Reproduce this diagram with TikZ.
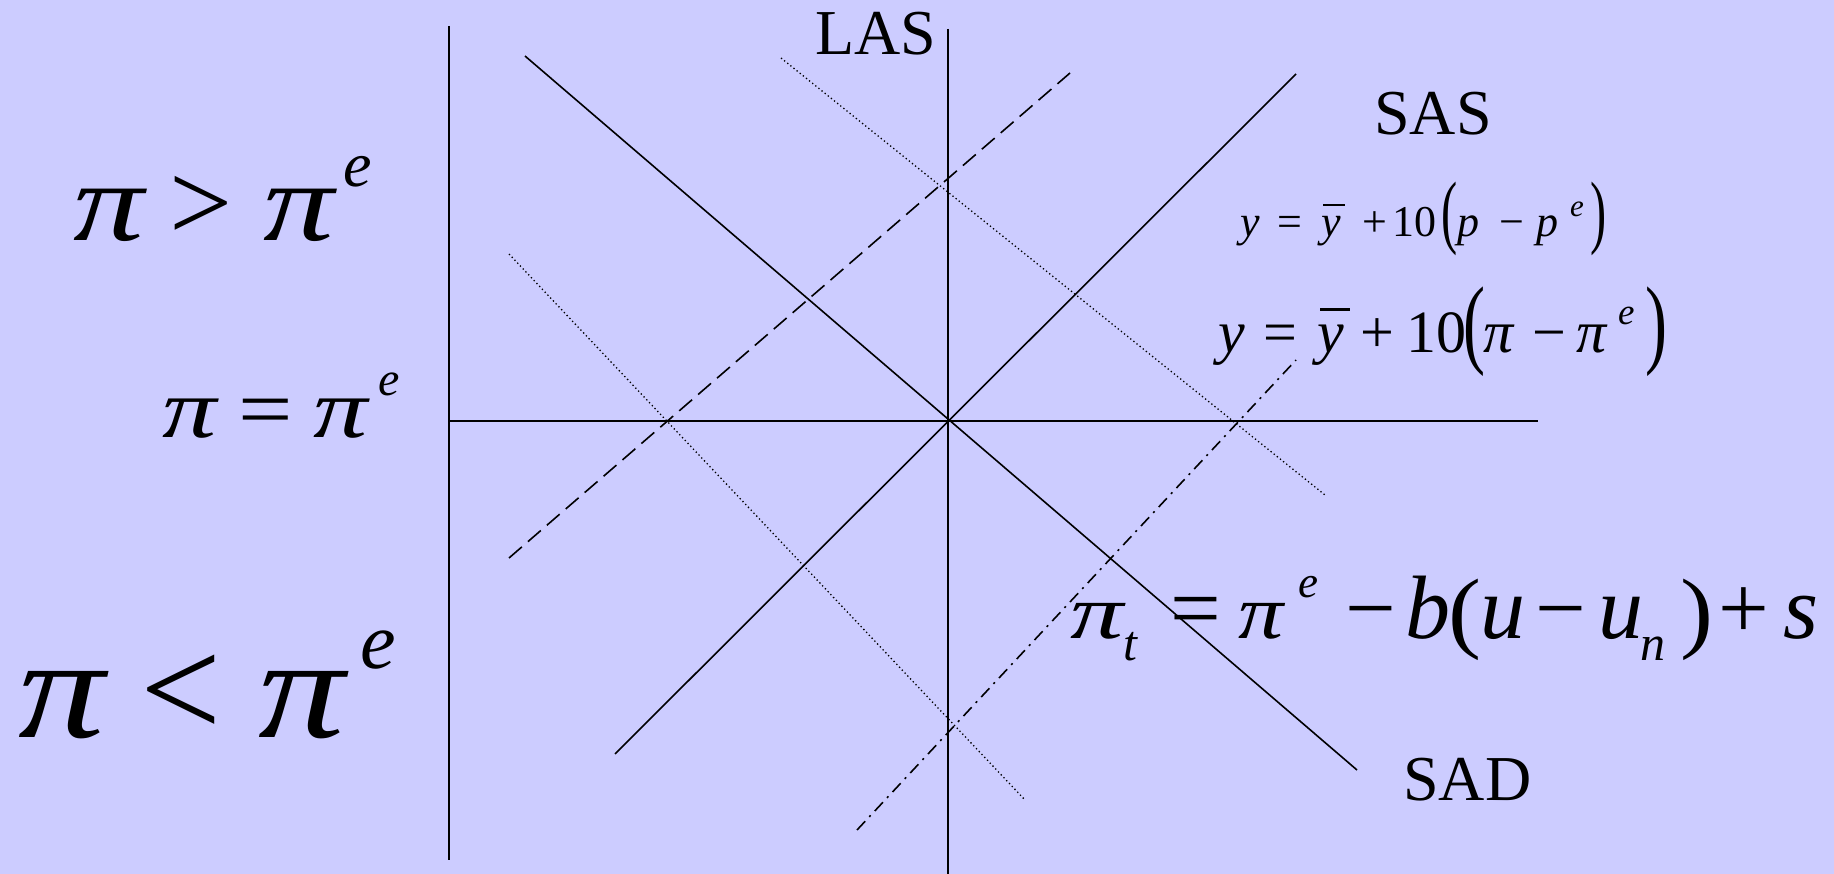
\documentclass[tikz,border=0pt]{standalone}
\usepackage{fontspec}
\setmainfont{Liberation Serif}
\usepackage{graphicx}
\definecolor{bgc}{HTML}{CCCCFF}
\newcommand{\gb}[2]{\makebox[#1pt][l]{#2}}
\newcommand{\rsup}[3]{\raisebox{#1pt}{\fontsize{#2}{#2}\selectfont\itshape #3}}
\newcommand{\ybar}{\rlap{\hspace{0.05em}\rule[0.7em]{0.5em}{0.045em}}\textit{y}}
\newcommand{\tallp}[4]{\raisebox{#3pt}{\scalebox{#1}[#2]{#4}}}
\newcommand{\PI}[2]{\scalebox{#1}[#2]{\textit{π}}}
\tikzset{
  solidln/.style={line width=1.6pt},
  axisln/.style={line width=1.8pt},
  dotln/.style={line width=1.3pt, dash pattern=on 1.3pt off 2.7pt},
  dashln/.style={line width=1.6pt, dash pattern=on 17pt off 8pt},
  dashdotln/.style={line width=1.6pt, dash pattern=on 12pt off 6pt on 2pt off 6pt},
  lbl/.style={inner sep=0pt, anchor=base west, font=\fontsize{64}{64}\selectfont},
  eq/.style={inner sep=0pt, anchor=base west}
}
\begin{document}
\begin{tikzpicture}[x=1pt,y=-1pt]
\fill[bgc] (0,0) rectangle (1834,874);
\useasboundingbox (0,0) rectangle (1834,874);
\clip (0,0) rectangle (1834,874);
% axes
\coordinate (vaT) at (449,26);
\coordinate (vaB) at (449,860);
\coordinate (haL) at (449,421);
\coordinate (haR) at (1538,421);
\coordinate (lasT) at (948,29);
\coordinate (lasB) at (948,880);
\draw[axisln] (vaT) -- (vaB);
\draw[axisln] (haL) -- (haR);
\draw[axisln] (lasT) -- (lasB);
% curves
\coordinate (sadA) at (525,56);
\coordinate (sadB) at (1357,770);
\coordinate (sasA) at (615,754);
\coordinate (sasB) at (1296,74);
\coordinate (dashA) at (509,558);
\coordinate (dashB) at (1070,73);
\coordinate (dotRA) at (781,58);
\coordinate (dotRB) at (1325,495);
\coordinate (dotLA) at (509,254);
\coordinate (dotLB) at (1025,800);
\coordinate (ddA) at (857,830);
\coordinate (ddB) at (1296,360);
\draw[solidln] (sadA) -- (sadB);
\draw[solidln] (sasA) -- (sasB);
\draw[dashln] (dashA) -- (dashB);
\draw[dotln] (dotRA) -- (dotRB);
\draw[dotln] (dotLA) -- (dotLB);
\draw[dashdotln] (ddA) -- (ddB);
% labels
\node[lbl] (las) at (815,55) {LAS};
\node[lbl] (sas) at (1374,135) {SAS};
\node[lbl] (sad) at (1403,800) {SAD};
% left
\node[eq, font=\fontsize{112}{112}\selectfont] (gt) at (73,241)
  {\gb{96}{\PI{1.26}{1}}\gb{94}{>}\gb{80}{\PI{1.26}{1}}\rsup{54}{64}{e}};
\node[eq, font=\fontsize{84}{84}\selectfont] (eqpi) at (162,437)
  {\gb{76}{\PI{1.29}{1}}\gb{75}{\scalebox{1.15}[1]{=}}\gb{65}{\PI{1.29}{1}}\rsup{42}{48}{e}};
\node[eq, font=\fontsize{144}{144}\selectfont] (lt) at (18,737)
  {\gb{122}{\PI{1.2}{1}}\gb{118}{<}\gb{102}{\PI{1.2}{1}}\rsup{69}{80}{e}};
% right equations
\node[eq, font=\fontsize{44}{44}\selectfont] (eq1) at (1240,237)
  {\gb{37}{\textit{y}}\gb{44}{=}\gb{41}{\ybar}\gb{30}{+}\gb{49}{10}\gb{16}{\tallp{1.1}{1.85}{-2}{(}}\gb{42}{\textit{p}}\gb{37}{−}\gb{34}{\textit{p}}\gb{20}{\rsup{20}{31}{e}}\tallp{1.1}{1.85}{-2}{)}};
\node[eq, font=\fontsize{60}{60}\selectfont] (eq2) at (1218,353)
  {\gb{45}{\textit{y}}\gb{54}{=}\gb{43}{\ybar}\gb{46}{+}\gb{57}{10}\gb{20}{\tallp{1.1}{1.65}{-2}{(}}\gb{49}{\textit{π}}\gb{44}{−}\gb{42}{\textit{π}}\gb{27}{\rsup{28}{37}{e}}\tallp{1.1}{1.65}{-2}{)}};
\node[eq, font=\fontsize{90}{90}\selectfont] (eq3) at (1070,638)
  {\gb{53}{\PI{1.18}{0.85}}\gb{47}{\rsup{-22}{50}{t}}\gb{68}{=}\gb{60}{\PI{1.0}{0.85}}\gb{47}{\rsup{41}{45}{e}}\gb{60}{−}\gb{43}{\textit{b}}\gb{32}{\tallp{1.1}{1.0}{-3}{(}}\gb{55}{\textit{u}}\gb{63}{−}\gb{42}{\textit{u}}\gb{40}{\rsup{-22}{50}{n}}\gb{38}{\tallp{1.1}{1.0}{-3}{)}}\gb{65}{+}\textit{s}};
\node[eq, font=\fontsize{90}{90}\selectfont] (cut) at (1545,946)
  {\gb{218}{\tallp{1.1}{1.1}{0}{(}}\tallp{1.1}{1.1}{0}{)}};
\end{tikzpicture}
\end{document}
